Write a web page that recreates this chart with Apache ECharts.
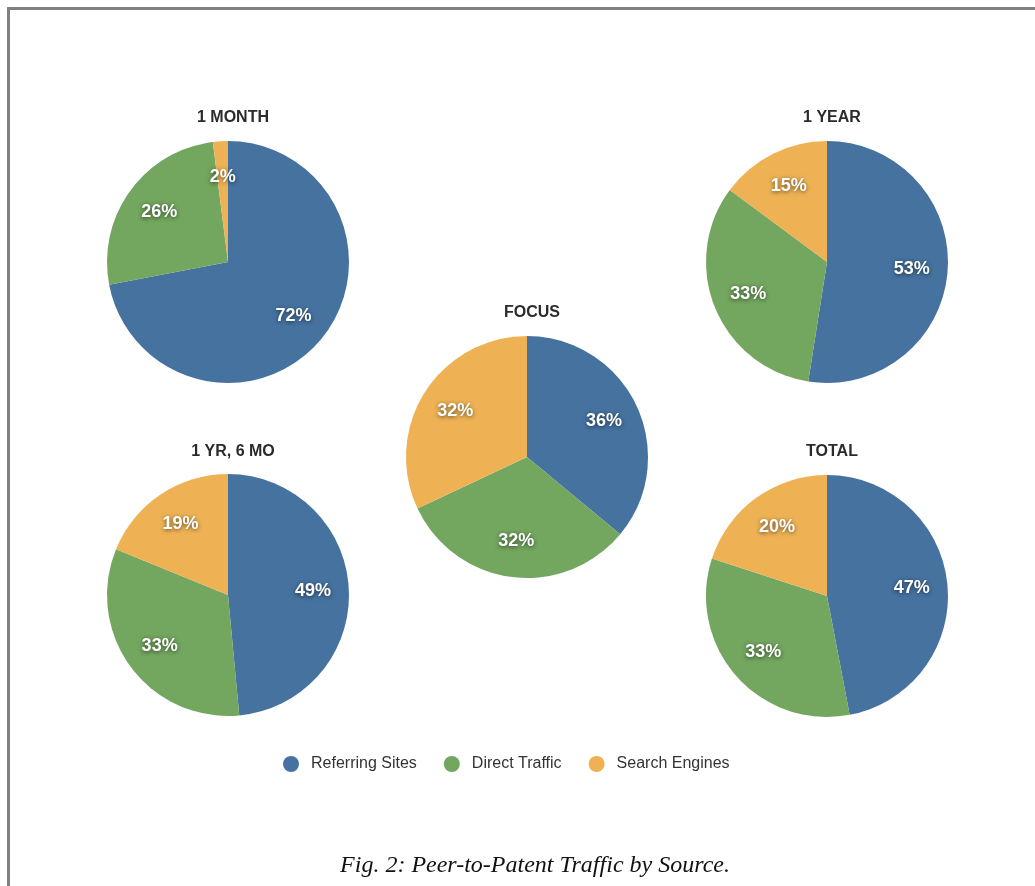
<!DOCTYPE html>
<html>
<head>
<meta charset="utf-8">
<title>Peer-to-Patent Traffic by Source</title>
<script src="https://cdn.jsdelivr.net/npm/echarts@6/dist/echarts.min.js"></script>
<style>
  html, body { margin: 0; padding: 0; background: #ffffff; }
  #chart { width: 1035px; height: 886px; }
</style>
</head>
<body>
<div id="chart"></div>
<script>
// Traffic sources, in slice order (clockwise from 12 o'clock)
const sources = ['Referring Sites', 'Direct Traffic', 'Search Engines'];
const sourceColors = ['#4672A0', '#73A65F', '#EEB255'];

// Time windows, one pie each
const periods = ['1 MONTH', '1 YEAR', 'FOCUS', '1 YR, 6 MO', 'TOTAL'];

// Share of traffic per source (percent), same order as `sources`
const month1 = [72, 26, 2];
const year1 = [53, 33, 15];
const focus = [36, 32, 32];
const yr1mo6 = [49, 33, 19];
const total = [47, 33, 20];

const shares = [month1, year1, focus, yr1mo6, total];

// Layout of each pie: centre (px) and title top (px)
const pieCenters = [[228, 262], [827, 262], [527, 457], [228, 595], [827, 596]];
const titleTops = [105, 105, 300, 439, 439];
const pieRadius = 121;
// Inside labels sit at about two thirds of the radius
const labelRadiusFactor = 0.67 / 0.5;

const chart = echarts.init(document.getElementById('chart'), null, { renderer: 'canvas' });

const titles = periods.map((name, i) => ({
  text: name,
  left: pieCenters[i][0],
  top: titleTops[i],
  textAlign: 'center',
  textStyle: {
    fontFamily: 'Liberation Sans, Arial, sans-serif',
    fontSize: 16,
    fontWeight: 'bold',
    color: '#2b2b2b'
  }
}));

const series = periods.map((name, i) => ({
  type: 'pie',
  name: name,
  center: pieCenters[i],
  radius: [0, pieRadius],
  startAngle: 90,
  clockwise: true,
  silent: true,
  animation: false,
  emphasis: { disabled: true },
  itemStyle: { borderWidth: 0 },
  label: {
    show: true,
    position: 'inside',
    formatter: '{c}%',
    color: '#ffffff',
    fontFamily: 'Liberation Sans, Arial, sans-serif',
    fontSize: 18,
    fontWeight: 'bold',
    textShadowColor: 'rgba(0,0,0,0.6)',
    textShadowBlur: 4,
    textShadowOffsetX: 0,
    textShadowOffsetY: 1
  },
  labelLine: { show: false },
  // push the default mid-radius labels further out along their own angle
  labelLayout: function (params) {
    const c = pieCenters[params.seriesIndex];
    const r = params.labelRect;
    const lx = r.x + r.width / 2;
    const ly = r.y + r.height / 2;
    return {
      x: c[0] + (lx - c[0]) * labelRadiusFactor,
      y: c[1] + (ly - c[1]) * labelRadiusFactor,
      align: 'center',
      verticalAlign: 'middle'
    };
  },
  data: sources.map((s, k) => ({
    name: s,
    value: shares[i][k],
    itemStyle: { color: sourceColors[k] }
  }))
}));

const option = {
  backgroundColor: '#ffffff',
  animation: false,
  title: titles,
  color: sourceColors,
  legend: {
    left: 278,
    top: 751,
    orient: 'horizontal',
    icon: 'circle',
    itemWidth: 22,
    itemHeight: 16,
    itemGap: 27,
    selectedMode: false,
    data: sources,
    textStyle: {
      fontFamily: 'Liberation Sans, Arial, sans-serif',
      fontSize: 16,
      color: '#333333',
      padding: [0, 0, 0, 4]
    }
  },
  graphic: [
    // page frame: top and left rules
    {
      type: 'line',
      silent: true,
      shape: { x1: 7, y1: 8.5, x2: 1035, y2: 8.5 },
      style: { stroke: '#808080', lineWidth: 3 }
    },
    {
      type: 'line',
      silent: true,
      shape: { x1: 8.5, y1: 7, x2: 8.5, y2: 886 },
      style: { stroke: '#808080', lineWidth: 3 }
    },
    // figure caption
    {
      type: 'text',
      silent: true,
      x: 535,
      y: 866,
      style: {
        text: 'Fig. 2: Peer-to-Patent Traffic by Source.',
        font: 'italic 24px "Liberation Serif", "Times New Roman", serif',
        fill: '#111111',
        align: 'center',
        verticalAlign: 'middle'
      }
    }
  ],
  series: series
};

chart.setOption(option);
</script>
</body>
</html>
